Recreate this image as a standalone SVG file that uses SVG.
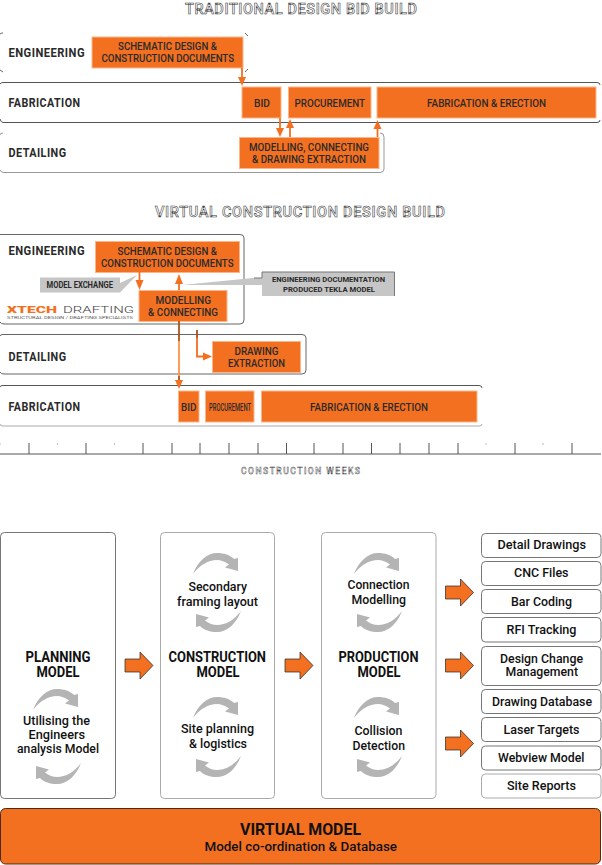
<svg xmlns="http://www.w3.org/2000/svg" width="602" height="865" viewBox="0 0 602 865">
<style>
text{font-family:"Roboto","Liberation Sans",sans-serif;font-weight:500;fill:#2a2a2a}
.ttl{font-size:14.5px;fill:#fff;stroke:#333;stroke-width:.55px;font-weight:500}
.wk{font-size:8.5px;fill:#fff;stroke:#333;stroke-width:.4px;font-weight:500}
.lane{font-size:12px;font-weight:700;letter-spacing:.5px}
.o{font-size:11px}
.c{font-size:8.5px;font-weight:700}
.h{font-size:14px;font-weight:700;fill:#111}
.b{font-size:12px;fill:#111}
.bar{fill:#f37021;stroke:#fbb58a;stroke-width:1}
.frame{fill:#fff;stroke:#666;stroke-width:.9}
.frameL{fill:#fff;stroke:#aaa;stroke-width:1}
.cy{fill:#b4b4b4}
.blk{fill:#f37021;stroke:#222;stroke-width:.7}
.ln{fill:none;stroke:#f37021;stroke-width:1.8}
.dk{fill:none;stroke:#a9541c;stroke-width:1.8}
.lt{fill:none;stroke:#ff9248;stroke-width:1.8}
.hd{fill:#f37021}
.gy{fill:#c6c6c6}
.tk{stroke:#555;stroke-width:1}
.tkf{stroke:#bbb;stroke-width:1}
</style>
<defs>
<path id="cy" d="M-23,21 C-18,8 -9,0 1,0 C8,0 14,2 18,6 L22,5 L22,18 L9,14.5 L13,11.5 C9,8.5 5,7 1,7 C-8,7 -16,12 -23,21 Z"/>
<path id="blk" d="M0,7 H15 V0 L28,13.5 L15,27 V20 H0 Z"/>
</defs>

<g id="title-traditional"><text class="ttl" x="185" y="14" textLength="232">TRADITIONAL DESIGN BID BUILD</text></g>

<g id="trad-engineering">
<path fill="none" stroke="#666" stroke-width="1" d="M0,34 Q1,33 3,33 M245,33 L248,36 M0,70 L3,72 M245,72 L248,69"/>
<text class="lane" x="8.5" y="57" textLength="76.5" lengthAdjust="spacingAndGlyphs">ENGINEERING</text>
</g>
<g id="trad-schematic"><rect class="bar" x="92" y="37" width="151" height="31"/>
<text class="o" x="118" y="50" textLength="99" lengthAdjust="spacingAndGlyphs">SCHEMATIC DESIGN &amp;</text>
<text class="o" x="101.5" y="62" textLength="132.5" lengthAdjust="spacingAndGlyphs">CONSTRUCTION DOCUMENTS</text></g>

<g id="trad-fabrication">
<path fill="none" stroke="#555" stroke-width="1" d="M0,84 Q1,82.5 3,82.5 H597 Q600,82.5 600,85 M0,119 Q1,122.5 3,122.5 H597 Q600,122.5 600,120"/>
<text class="lane" x="8.5" y="107" textLength="72" lengthAdjust="spacingAndGlyphs">FABRICATION</text>
</g>
<g id="trad-bid"><rect class="bar" x="242" y="87" width="39" height="31"/><text class="o" x="254" y="107" textLength="16" lengthAdjust="spacingAndGlyphs">BID</text></g>
<g id="trad-procurement"><rect class="bar" x="288.5" y="87" width="82.5" height="31"/><text class="o" x="294.5" y="107" textLength="70.5" lengthAdjust="spacingAndGlyphs">PROCUREMENT</text></g>
<g id="trad-erection"><rect class="bar" x="377" y="87" width="219" height="31"/><text class="o" x="427" y="107" textLength="119" lengthAdjust="spacingAndGlyphs">FABRICATION &amp; ERECTION</text></g>

<g id="trad-detailing">
<path fill="none" stroke="#999" stroke-width="1" d="M0,135 Q0,133 3,133 M380,133 Q384,133 384,137 V169 Q384,172.5 380,172.5 H4 Q1,172.5 0,170"/>
<text class="lane" x="8.5" y="157" textLength="58" lengthAdjust="spacingAndGlyphs">DETAILING</text>
</g>
<g id="trad-modelling"><rect class="bar" x="239.5" y="137.5" width="139.5" height="31"/>
<text class="o" x="249" y="151" textLength="120" lengthAdjust="spacingAndGlyphs">MODELLING, CONNECTING</text>
<text class="o" x="252" y="163" textLength="114" lengthAdjust="spacingAndGlyphs">&amp; DRAWING EXTRACTION</text></g>

<g id="title-virtual"><text class="ttl" x="155" y="217" textLength="290">VIRTUAL CONSTRUCTION DESIGN BUILD</text></g>

<g id="virt-engineering">
<path fill="none" stroke="#666" stroke-width="1" d="M0,234.5 H240 Q244,234.5 244,238 V320 Q244,324 240,324 H4 Q1,324 0,322"/>
<text class="lane" x="8.5" y="255" textLength="76.5" lengthAdjust="spacingAndGlyphs">ENGINEERING</text>
</g>
<g id="virt-detailing">
<path fill="none" stroke="#666" stroke-width="1" d="M0,336 Q0,334.5 3,334.5 H302 Q306,334.5 306,338 V370 Q306,374 302,374 H4 Q1,374 0,372"/>
<text class="lane" x="8.5" y="361" textLength="58" lengthAdjust="spacingAndGlyphs">DETAILING</text>
</g>
<g id="virt-fabrication">
<path fill="none" stroke="#555" stroke-width="1" d="M0,387 Q0,385.5 3,385.5 H479 Q482,385.5 482,388"/>
<path fill="none" stroke="#aaa" stroke-width="1" d="M0,424 Q0,426 3,426 H479 Q482,426 482,424"/>
<text class="lane" x="8.5" y="411" textLength="72" lengthAdjust="spacingAndGlyphs">FABRICATION</text>
</g>
<g id="virt-schematic"><rect class="bar" x="95.5" y="241.5" width="144" height="31"/>
<text class="o" x="117.5" y="255" textLength="99.5" lengthAdjust="spacingAndGlyphs">SCHEMATIC DESIGN &amp;</text>
<text class="o" x="101" y="267" textLength="132.5" lengthAdjust="spacingAndGlyphs">CONSTRUCTION DOCUMENTS</text></g>
<g id="virt-model-exchange"><polygon class="gy" points="40,277.5 120,277.5 120,283 137,275 120,292.5 40,292.5"/>
<text class="c" x="46.5" y="288" textLength="66.5" lengthAdjust="spacingAndGlyphs">MODEL EXCHANGE</text></g>
<g id="virt-tekla-note"><polygon class="gy" points="182,285 253,278 262,278 262,272 395,272 395,296 262,296 262,285"/>
<path fill="none" stroke="#777" stroke-width="1" d="M254,278 H262 V272 H394.500 V296"/>
<text class="c" style="font-size:8px" x="272" y="282" textLength="113" lengthAdjust="spacingAndGlyphs">ENGINEERING DOCUMENTATION</text>
<text class="c" style="font-size:8px" x="283" y="292" textLength="92" lengthAdjust="spacingAndGlyphs">PRODUCED TEKLA MODEL</text></g>
<g id="virt-modelling"><rect class="bar" x="139" y="290.500" width="88" height="31"/>
<text class="o" x="155.5" y="304" textLength="55.5" lengthAdjust="spacingAndGlyphs">MODELLING</text>
<text class="o" x="148" y="316" textLength="70" lengthAdjust="spacingAndGlyphs">&amp; CONNECTING</text></g>
<g id="logo">
<text x="7" y="313" textLength="50" lengthAdjust="spacingAndGlyphs" style="font-size:9px;font-weight:900;fill:#f37021">XTECH</text>
<text x="63" y="313" textLength="71" lengthAdjust="spacingAndGlyphs" style="font-size:9px;font-weight:300;fill:#444">DRAFTING</text>
<text x="7" y="319" textLength="126" lengthAdjust="spacingAndGlyphs" style="font-size:3.500px;font-weight:400;fill:#555">STRUCTURAL DESIGN / DRAFTING SPECIALISTS</text>
</g>
<g id="virt-drawing"><rect class="bar" x="212.5" y="341.500" width="88" height="31"/>
<text class="o" x="234.5" y="355" textLength="44" lengthAdjust="spacingAndGlyphs">DRAWING</text>
<text class="o" x="228" y="367" textLength="57" lengthAdjust="spacingAndGlyphs">EXTRACTION</text></g>
<g id="virt-bid"><rect class="bar" x="178.5" y="391" width="20.500" height="31"/><text class="o" x="181" y="411" textLength="15.500" lengthAdjust="spacingAndGlyphs">BID</text></g>
<g id="virt-procurement"><rect class="bar" x="205.5" y="391" width="48.500" height="31"/><text class="o" x="209" y="411" textLength="42" lengthAdjust="spacingAndGlyphs">PROCUREMENT</text></g>
<g id="virt-erection"><rect class="bar" x="261.500" y="391" width="215.500" height="31"/><text class="o" x="310" y="411" textLength="118" lengthAdjust="spacingAndGlyphs">FABRICATION &amp; ERECTION</text></g>

<g id="timeline">
<path class="tk" d="M0,454 H601"/>
<path class="tk" d="M29,443 V454 M86,443 V454 M143,443 V454 M172,443 V454 M200,443 V454 M229,443 V454 M258,443 V454 M286.500,443 V454 M314,443 V454 M343,443 V454 M371.500,443 V454 M400,443 V454 M429,443 V454 M458,443 V454 M515,443 V454 M572,443 V454"/>
<path class="tkf" d="M0,443 V445 M57.500,443 V445 M114.500,443 V445 M486,443 V445 M543,443 V445"/>
<text class="wk" x="241" y="474" textLength="119">CONSTRUCTION WEEKS</text>
</g>

<g id="connectors">
<path class="ln" d="M242,68 V78"/><polygon class="hd" points="238,77 246,77 242,86"/>
<path class="ln" d="M280,118 V129"/><polygon class="hd" points="276,128 284,128 280,137"/>
<path class="ln" d="M290,137 V127"/><polygon class="hd" points="286,128 294,128 290,119"/>
<path class="ln" d="M377.500,137 V128"/><polygon class="hd" points="373.500,129 381.500,129 377.500,120"/>
<path class="ln" d="M139.500,272 V281"/><polygon class="hd" points="135.500,280 143.500,280 139.500,290"/>
<path class="ln" d="M179,290 V283"/><polygon class="hd" points="175,284 183,284 179,274"/>
<path class="dk" d="M179,321 V341"/><path class="lt" d="M179,341 V376"/><path class="dk" d="M179,376 V381"/><polygon class="hd" points="175,380 183,380 179,389"/>
<path class="dk" d="M197,330 V338"/><path class="ln" d="M197,338 V356.500 H204"/><polygon class="hd" points="203,352.500 203,360.500 212,356.500"/>
</g>

<g id="planning-model"><rect class="frame" x=".5" y="532.500" width="115" height="266" rx="4"/>
<text class="h" x="25.500" y="662" textLength="65" lengthAdjust="spacingAndGlyphs">PLANNING</text>
<text class="h" x="36.500" y="677" textLength="43" lengthAdjust="spacingAndGlyphs">MODEL</text>
<use href="#cy" class="cy" x="56" y="689"/>
<text class="b" x="23" y="724.500" textLength="67" lengthAdjust="spacingAndGlyphs">Utilising the</text>
<text class="b" x="28.500" y="739" textLength="56.500" lengthAdjust="spacingAndGlyphs">Engineers</text>
<text class="b" x="17" y="753" textLength="82" lengthAdjust="spacingAndGlyphs">analysis Model</text>
<use href="#cy" class="cy" transform="translate(58,784) rotate(180)"/>
</g>
<g id="construction-model"><rect class="frameL" x="160.500" y="532.500" width="114" height="266" rx="4"/>
<use href="#cy" class="cy" x="216" y="553"/>
<text class="b" x="188.500" y="591" textLength="58.500" lengthAdjust="spacingAndGlyphs">Secondary</text>
<text class="b" x="177" y="606" textLength="81" lengthAdjust="spacingAndGlyphs">framing layout</text>
<use href="#cy" class="cy" transform="translate(218,632) rotate(180)"/>
<text class="h" x="168.500" y="662" textLength="97.500" lengthAdjust="spacingAndGlyphs">CONSTRUCTION</text>
<text class="h" x="196.500" y="677" textLength="43" lengthAdjust="spacingAndGlyphs">MODEL</text>
<use href="#cy" class="cy" x="216" y="697"/>
<text class="b" x="181" y="733" textLength="73" lengthAdjust="spacingAndGlyphs">Site planning</text>
<text class="b" x="189" y="748" textLength="58" lengthAdjust="spacingAndGlyphs">&amp; logistics</text>
<use href="#cy" class="cy" transform="translate(218,777) rotate(180)"/>
</g>
<g id="production-model"><rect class="frameL" x="321.500" y="532.500" width="114.500" height="266" rx="4"/>
<use href="#cy" class="cy" x="377" y="553"/>
<text class="b" x="347.500" y="589" textLength="62" lengthAdjust="spacingAndGlyphs">Connection</text>
<text class="b" x="351.500" y="604" textLength="54.500" lengthAdjust="spacingAndGlyphs">Modelling</text>
<use href="#cy" class="cy" transform="translate(379,632) rotate(180)"/>
<text class="h" x="338.500" y="662" textLength="80" lengthAdjust="spacingAndGlyphs">PRODUCTION</text>
<text class="h" x="357.500" y="677" textLength="43" lengthAdjust="spacingAndGlyphs">MODEL</text>
<use href="#cy" class="cy" x="377" y="697"/>
<text class="b" x="354.500" y="735" textLength="48" lengthAdjust="spacingAndGlyphs">Collision</text>
<text class="b" x="352.500" y="750" textLength="52.500" lengthAdjust="spacingAndGlyphs">Detection</text>
<use href="#cy" class="cy" transform="translate(379,777) rotate(180)"/>
</g>

<g id="flow-arrows">
<use href="#blk" class="blk" x="125" y="652"/>
<use href="#blk" class="blk" x="285" y="652"/>
<use href="#blk" class="blk" x="445.500" y="579"/>
<use href="#blk" class="blk" x="445.500" y="652"/>
<use href="#blk" class="blk" x="445.500" y="730"/>
</g>

<g id="out-detail"><rect class="frame" x="481.500" y="533.500" width="119.500" height="24" rx="4"/><text class="b" x="497.500" y="549" textLength="88.500" lengthAdjust="spacingAndGlyphs">Detail Drawings</text></g>
<g id="out-cnc"><rect class="frame" x="481.500" y="561.500" width="119.500" height="24" rx="4"/><text class="b" x="514" y="577" textLength="54.500" lengthAdjust="spacingAndGlyphs">CNC Files</text></g>
<g id="out-bar"><rect class="frame" x="481.500" y="589.500" width="119.500" height="24" rx="4"/><text class="b" x="511" y="606" textLength="61" lengthAdjust="spacingAndGlyphs">Bar Coding</text></g>
<g id="out-rfi"><rect class="frame" x="481.500" y="617.500" width="119.500" height="24.500" rx="4"/><text class="b" x="506.500" y="634" textLength="70" lengthAdjust="spacingAndGlyphs">RFI Tracking</text></g>
<g id="out-change"><rect class="frame" x="481.500" y="646.500" width="119.500" height="39" rx="4"/><text class="b" x="500" y="663" textLength="83" lengthAdjust="spacingAndGlyphs">Design Change</text><text class="b" x="505.500" y="676" textLength="72.500" lengthAdjust="spacingAndGlyphs">Management</text></g>
<g id="out-database"><rect class="frame" x="481.500" y="689.500" width="119.500" height="24" rx="4"/><text class="b" x="492" y="706" textLength="100" lengthAdjust="spacingAndGlyphs">Drawing Database</text></g>
<g id="out-laser"><rect class="frame" x="481.500" y="717.500" width="119.500" height="24" rx="4"/><text class="b" x="503.500" y="734" textLength="76" lengthAdjust="spacingAndGlyphs">Laser Targets</text></g>
<g id="out-webview"><rect class="frame" x="481.500" y="746" width="119.500" height="24" rx="4"/><text class="b" x="498" y="762" textLength="86.500" lengthAdjust="spacingAndGlyphs">Webview Model</text></g>
<g id="out-site"><rect class="frameL" x="481.500" y="774" width="119.500" height="24" rx="4"/><text class="b" x="507" y="790" textLength="69" lengthAdjust="spacingAndGlyphs">Site Reports</text></g>

<g id="virtual-model"><rect x=".5" y="808.500" width="600" height="55.500" rx="5" fill="#f37021" stroke="#4a2a10" stroke-width="1"/>
<text x="240" y="835" textLength="121" lengthAdjust="spacingAndGlyphs" style="font-size:16px;font-weight:700;fill:#111">VIRTUAL MODEL</text>
<text x="204.500" y="851" textLength="192.500" lengthAdjust="spacingAndGlyphs" style="font-size:12.500px;fill:#111">Model co-ordination &amp; Database</text></g>
</svg>
